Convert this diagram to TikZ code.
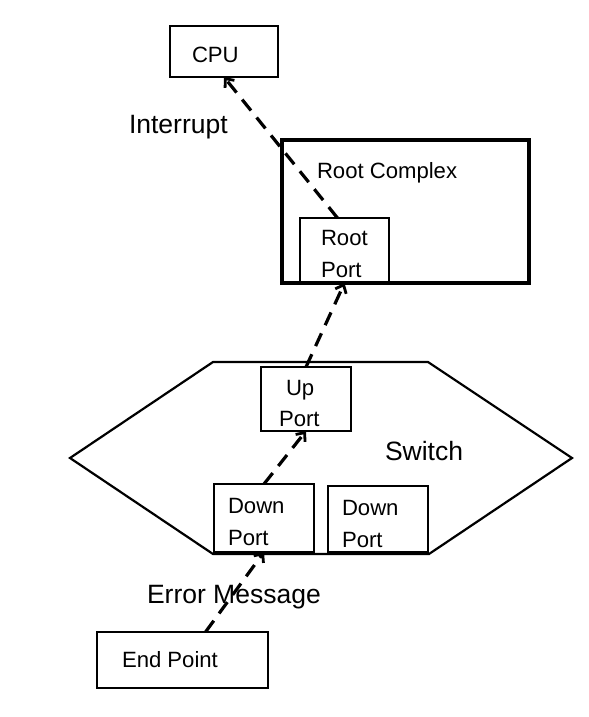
\documentclass[tikz,border=0pt]{standalone}
\usepackage{fontspec}
\setmainfont{Liberation Sans}
\usetikzlibrary{arrows.meta,calc}
\begin{document}
\begin{tikzpicture}[x=1bp,y=-1bp,
  box/.style={draw,line width=2.6bp,inner sep=0pt,outer sep=0pt,rectangle},
  txt/.style={inner sep=0pt,outer sep=0pt,anchor=base west,font=\fontsize{22.2}{25}\selectfont},
  bigtxt/.style={inner sep=0pt,outer sep=0pt,anchor=base west,font=\fontsize{26.6}{30}\selectfont},
  flow/.style={line width=3.2bp,dash pattern=on 14bp off 9bp,-{Straight Barb[length=7bp,width=12bp,line width=2.8bp]}}]
\useasboundingbox (0,0) rectangle (589,717);
% switch hexagon
\draw[line width=2.2bp,line join=miter] (213,362) -- (428,362) -- (572,458) -- (429,554) -- (213,554) -- (70,458) -- cycle;
% boxes
\node[box,minimum width=108bp,minimum height=51bp] (cpu) at (224,51.5) {};
\node[box,line width=3.2bp,minimum width=247bp,minimum height=143bp] (rc) at (405.5,211.5) {};
\node[box,minimum width=89bp,minimum height=65bp] (rp) at (344.5,250.5) {};
\node[box,line width=2.4bp,minimum width=90bp,minimum height=64bp] (up) at (306,399) {};
\node[box,line width=2.4bp,minimum width=100bp,minimum height=68bp] (dp1) at (264,518) {};
\node[box,line width=2.4bp,minimum width=100bp,minimum height=66bp] (dp2) at (378,519) {};
\node[box,line width=2.4bp,minimum width=171bp,minimum height=56bp] (ep) at (182.5,660) {};
% texts
\node[txt] (tcpu) at (192,63) {CPU};
\node[bigtxt] (tint) at (129,134) {Interrupt};
\node[txt] (trc) at (317,178) {Root Complex};
\node[txt] (trp1) at (321,245) {Root};
\node[txt] (trp2) at (321,277) {Port};
\node[txt] (tup1) at (286,395) {Up};
\node[txt] (tup2) at (279,426) {Port};
\node[bigtxt] (tsw) at (385,460) {Switch};
\node[txt] (td1a) at (228,513) {Down};
\node[txt] (td1b) at (228,545) {Port};
\node[txt] (td2a) at (342,515) {Down};
\node[txt] (td2b) at (342,547) {Port};
\node[bigtxt] (terr) at (147,603) {Error Message};
\node[txt] (tep) at (122,667) {End Point};
% connectors
\coordinate (ep1) at ($(ep.north)+(23,0)$);
\coordinate (rp1) at ($(rp.north)+(-7,0)$);
\draw[flow] (ep1) -- (dp1.south);
\draw[flow] (dp1.north) -- (up.south);
\draw[flow] (up.north) -- (rp.south);
\draw[flow] (rp1) -- (cpu.south);
\end{tikzpicture}
\end{document}
